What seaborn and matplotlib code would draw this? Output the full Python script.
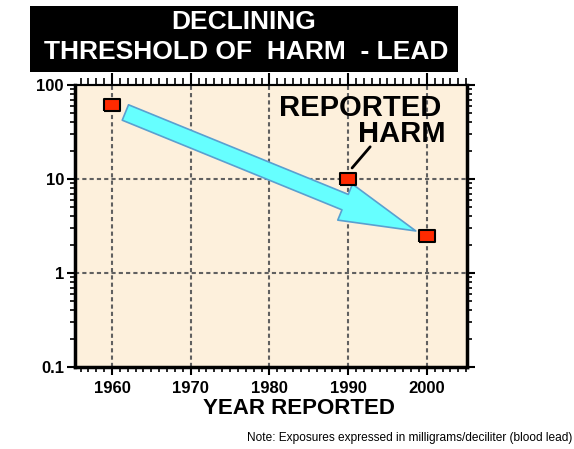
import numpy as np
import matplotlib
matplotlib.use("Agg")
import matplotlib.pyplot as plt
from matplotlib.patches import Rectangle
from matplotlib.ticker import LogLocator, MultipleLocator, FixedLocator, NullFormatter
import seaborn as sns
import pandas as pd

# data
years = [1960, 1990, 2000]
blood_lead = [62, 10, 2.5]
y_ticks = [0.1, 1, 10, 100]
y_tick_labels = ["0.1", "1", "10", "100"]
x_ticks = [1960, 1970, 1980, 1990, 2000]
title_lines = ["DECLINING", "THRESHOLD OF  HARM  - LEAD"]
note = "Note: Exposures expressed in milligrams/deciliter (blood lead)"

sns.set_style("ticks")
plt.rcParams["font.family"] = ["Liberation Sans", "DejaVu Sans"]
plt.rcParams["text.color"] = "black"
plt.rcParams["xtick.color"] = "black"
plt.rcParams["ytick.color"] = "black"

W, H = 574, 449
fig = plt.figure(figsize=(W / 100, H / 100), dpi=100)
fig.patch.set_facecolor("white")

# axes box in pixels: left 75, right 467, top 85, bottom 367
ax = fig.add_axes([75 / W, 1 - 367 / H, (467 - 75) / W, (367 - 85) / H])
ax.set_facecolor("#fdf0dc")

df = pd.DataFrame({"year": years, "level": blood_lead})

ax.set_yscale("log")
ax.set_xlim(1955.3, 2005.1)
ax.set_ylim(0.1, 100)

# cyan trend arrow
ax.annotate("", xy=(1998.6, 2.8), xytext=(1961.7, 51),
            arrowprops=dict(arrowstyle="simple,head_width=28,head_length=55,tail_width=12",
                            mutation_scale=1, fc="#66ffff", ec="#5aa0d0", lw=1.2,
                            shrinkA=0, shrinkB=0),
            zorder=3)

rect_marker = [(-1, -0.8), (1, -0.8), (1, 0.8), (-1, 0.8), (-1, -0.8)]
sns.scatterplot(data=df, x="year", y="level", ax=ax, marker=rect_marker, s=120,
                color="#ff2a00", edgecolor="black", linewidth=1.5, zorder=5,
                legend=False)

# grid
for x in x_ticks:
    ax.axvline(x, color="#606060", lw=1.5, ls=(0, (2, 1.5)), zorder=1)
for y in [1, 10]:
    ax.axhline(y, color="#606060", lw=1.5, ls=(0, (2, 1.5)), zorder=1)

# leader line
ax.annotate("", xy=(1990.5, 13.1), xytext=(1992.8, 22),
            arrowprops=dict(arrowstyle="-", color="black", lw=2, shrinkA=0, shrinkB=0))

# ticks
ax.yaxis.set_major_locator(FixedLocator(y_ticks))
ax.set_yticklabels(y_tick_labels)
ax.yaxis.set_minor_locator(LogLocator(base=10, subs=np.arange(2, 10)))
ax.yaxis.set_minor_formatter(NullFormatter())
ax.xaxis.set_major_locator(FixedLocator(x_ticks))
ax.xaxis.set_minor_locator(MultipleLocator(1))
ax.tick_params(axis="both", which="major", direction="out", length=6, width=1.5,
               labelsize=12, pad=2, top=False, right=True, color="black",
               labelcolor="black")
ax.tick_params(axis="both", which="minor", direction="out", length=3.5, width=1.2,
               top=False, right=True, color="black")
ax.tick_params(axis="x", which="major", pad=4)
for lab in ax.get_xticklabels() + ax.get_yticklabels():
    lab.set_fontweight("bold")

# taller ticks along the top edge
top = ax.secondary_xaxis("top")
top.xaxis.set_major_locator(FixedLocator(x_ticks))
top.xaxis.set_minor_locator(MultipleLocator(1))
top.tick_params(which="major", direction="out", length=9, width=1.5, labeltop=False)
top.tick_params(which="minor", direction="out", length=5, width=1.2)
top.spines["top"].set_linewidth(1.5)

for side in ["left", "bottom", "right"]:
    ax.spines[side].set_linewidth(2.5)
    ax.spines[side].set_color("black")
ax.spines["top"].set_linewidth(1.5)
ax.spines["top"].set_color("black")
ax.set_xlabel("")
ax.set_ylabel("")

# title block
fig.patches.append(Rectangle((30 / W, 1 - 72 / H), 428 / W, 66 / H,
                             transform=fig.transFigure, facecolor="black",
                             edgecolor="none", zorder=0))
fig.text(244 / W, 1 - 22 / H, title_lines[0], color="white", fontsize=19,
         fontweight="bold", ha="center", va="center")
fig.text(246 / W, 1 - 52 / H, title_lines[1], color="white", fontsize=19,
         fontweight="bold", ha="center", va="center")

# callout label
fig.text(360 / W, 1 - 108 / H, "REPORTED", fontsize=21, fontweight="bold",
         ha="center", va="center")
fig.text(402 / W, 1 - 134 / H, "HARM", fontsize=21, fontweight="bold",
         ha="center", va="center")

fig.text(299 / W, 1 - 408 / H, "YEAR REPORTED", fontsize=16, fontweight="bold",
         ha="center", va="center")
fig.text(572 / W, 1 - 438 / H, note, fontsize=8.6, ha="right", va="center")

fig.savefig("out.png", dpi=100)
